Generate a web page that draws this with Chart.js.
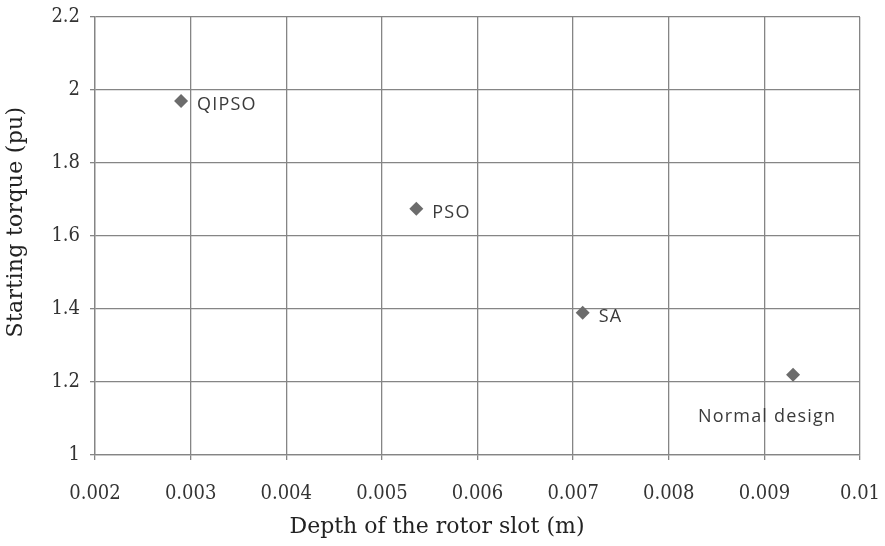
<!DOCTYPE html>
<html>
<head>
<meta charset="utf-8">
<script src="https://cdn.jsdelivr.net/npm/chart.js@4/dist/chart.umd.min.js"></script>
<style>
  html, body { margin: 0; padding: 0; background: #ffffff; }
  #wrap { width: 885px; height: 546px; }
</style>
</head>
<body>
<div id="wrap"><canvas id="c" width="885" height="546"></canvas></div>
<script>
// Optimisation methods and resulting rotor designs
const methods = ['QIPSO', 'PSO', 'SA', 'Normal design'];
const slotDepth = [0.0029, 0.00536, 0.0071, 0.0093];      // m
const startingTorque = [1.97, 1.675, 1.39, 1.22];         // pu

const xTitle = 'Depth of the rotor slot (m)';
const yTitle = 'Starting torque (pu)';

const gridColor = '#858585';
const markerColor = '#6c6c6c';
const tickFamily = '"DejaVu Serif Condensed", "DejaVu Serif", serif';

// Draws each method name next to its point
const pointLabels = {
  id: 'pointLabels',
  afterDatasetsDraw(chart, args, opts) {
    const ctx = chart.ctx;
    const meta = chart.getDatasetMeta(0);
    ctx.save();
    ctx.fillStyle = '#3a3a3a';
    ctx.font = opts.font;
    ctx.letterSpacing = opts.spacing;
    ctx.textBaseline = 'middle';
    meta.data.forEach((pt, i) => {
      const place = opts.placement[i];
      if (place === 'below') {
        ctx.textAlign = 'center';
        ctx.fillText(methods[i], pt.x - 26, pt.y + 42);
      } else {
        ctx.textAlign = 'left';
        ctx.fillText(methods[i], pt.x + 16, pt.y + 4);
      }
    });
    ctx.restore();
  }
};

// Axis titles
const axisTitles = {
  id: 'axisTitles',
  afterDraw(chart) {
    const ctx = chart.ctx;
    ctx.save();
    ctx.fillStyle = '#222222';
    ctx.font = '22px "DejaVu Serif"';
    ctx.textAlign = 'center';
    ctx.textBaseline = 'middle';
    ctx.fillText(xTitle, 437, 527);
    ctx.letterSpacing = '0.3px';
    ctx.translate(16, 222);
    ctx.rotate(-Math.PI / 2);
    ctx.fillText(yTitle, 0, 0);
    ctx.restore();
  }
};

const fmt = (v, d) => String(parseFloat(Number(v).toFixed(d)));

new Chart(document.getElementById('c'), {
  type: 'scatter',
  data: {
    datasets: [{
      label: 'Starting torque',
      data: slotDepth.map((x, i) => ({ x: x, y: startingTorque[i] })),
      pointStyle: 'rectRot',
      pointRadius: 7,
      pointHoverRadius: 7,
      backgroundColor: markerColor,
      borderColor: markerColor,
      borderWidth: 0
    }]
  },
  options: {
    responsive: false,
    animation: false,
    devicePixelRatio: 1,
    layout: { padding: { top: 17, right: 25, left: 0, bottom: 0 } },
    plugins: {
      legend: { display: false },
      tooltip: { enabled: false },
      pointLabels: {
        font: '18px "Open Sans"',
        spacing: '1.2px',
        placement: ['right', 'right', 'right', 'below']
      }
    },
    scales: {
      x: {
        type: 'linear',
        min: 0.002,
        max: 0.01,
        afterFit(scale) {
          scale.height = 91;
          scale.paddingLeft = 0;
          scale.paddingRight = 0;
        },
        ticks: {
          stepSize: 0.001,
          padding: 22,
          color: '#333333',
          font: { family: tickFamily, size: 20 },
          maxRotation: 0,
          callback: v => fmt(v, 3)
        },
        grid: { color: gridColor, lineWidth: 1.3, tickLength: 5, drawTicks: true },
        border: { color: gridColor, width: 1.3 }
      },
      y: {
        type: 'linear',
        min: 1,
        max: 2.2,
        afterFit(scale) {
          scale.width = 95;
          scale.paddingTop = 0;
          scale.paddingBottom = 0;
        },
        ticks: {
          stepSize: 0.2,
          padding: 10,
          color: '#333333',
          font: { family: tickFamily, size: 20 },
          callback: v => fmt(v, 1)
        },
        grid: { color: gridColor, lineWidth: 1.3, tickLength: 5, drawTicks: true },
        border: { color: gridColor, width: 1.3 }
      }
    }
  },
  plugins: [pointLabels, axisTitles]
});
</script>
</body>
</html>
